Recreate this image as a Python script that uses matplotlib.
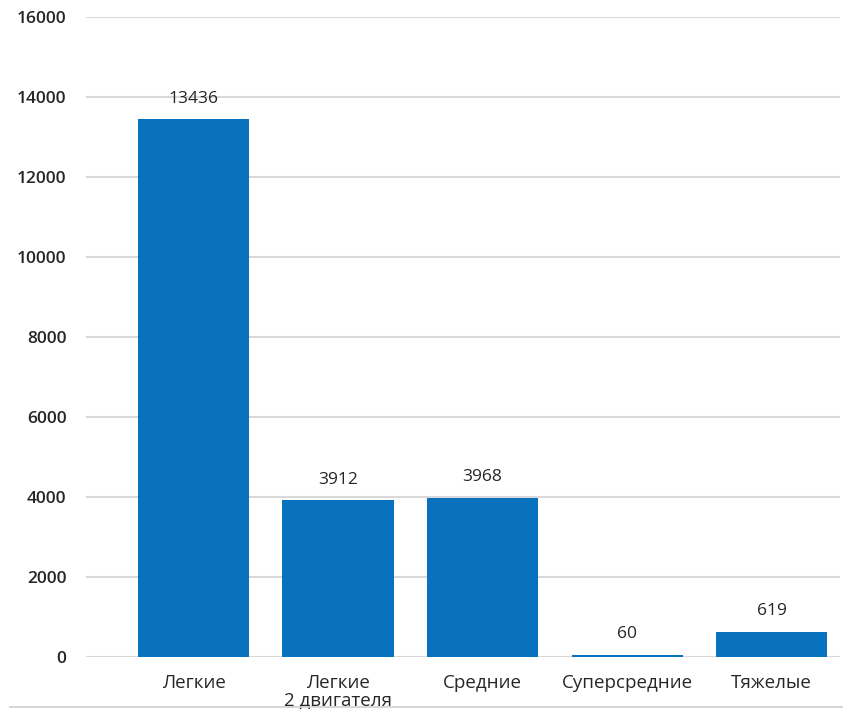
import matplotlib
matplotlib.use("Agg")
import matplotlib.pyplot as plt
from matplotlib.lines import Line2D

# ── Data ──────────────────────────────────────────────────────────────────────
categories = ["Легкие", "Легкие\n2 двигателя", "Средние", "Суперсредние", "Тяжелые"]
values = [13436, 3912, 3968, 60, 619]
y_ticks = [0, 2000, 4000, 6000, 8000, 10000, 12000, 14000, 16000]

BAR_COLOR = "#0872BE"
GRID_COLOR = "#D9D9D9"
TEXT_COLOR = "#262626"

plt.rcParams["font.family"] = ["Open Sans", "DejaVu Sans"]

fig = plt.figure(figsize=(8.43, 7.09), dpi=100)
ax = fig.add_axes([0.102, 0.0733, 0.894, 0.903])

x = list(range(len(categories)))
bars = ax.bar(x, values, width=0.77, color=BAR_COLOR, zorder=3)

for rect, v in zip(bars, values):
    ax.annotate(str(v), (rect.get_x() + rect.get_width() / 2, v),
                xytext=(0, 15), textcoords="offset points",
                ha="center", va="center", fontsize=12.5, color=TEXT_COLOR)

ax.set_ylim(0, 16000)
ax.set_xlim(-0.744, 4.47)
ax.set_yticks(y_ticks)
ax.set_yticklabels([str(t) for t in y_ticks], fontsize=12.5, color=TEXT_COLOR,
                   fontweight="semibold")
ax.set_xticks(x)
ax.set_xticklabels(categories, fontsize=13.5, color=TEXT_COLOR,
                   linespacing=1.0, va="top")
ax.tick_params(axis="both", length=0)
ax.tick_params(axis="y", pad=14)
ax.tick_params(axis="x", pad=12)

ax.grid(axis="y", color=GRID_COLOR, linewidth=1.5, zorder=0)
for s in ax.spines.values():
    s.set_visible(False)

# thin frame line at the very bottom of the picture
fig.add_artist(Line2D([0.012, 1.0], [0.003, 0.003], color="#D0D0D0",
                      linewidth=1.2, transform=fig.transFigure))

plt.savefig("out.png", dpi=100)
plt.close()
